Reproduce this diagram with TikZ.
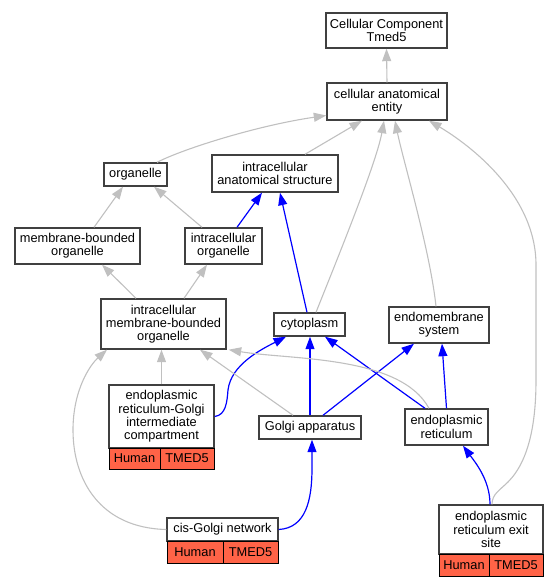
\documentclass[tikz,border=0pt]{standalone}
\usepackage{fontspec}
\setmainfont{Liberation Sans}
\usetikzlibrary{arrows.meta}
\definecolor{edgegray}{HTML}{C0C0C0}
\definecolor{edgeblue}{HTML}{0000FF}
\definecolor{boxc}{HTML}{404040}
\definecolor{tomatored}{HTML}{FF6347}
\tikzset{
  box/.style={draw=boxc, line width=1.4pt, fill=white, inner sep=0pt, align=center,
    font=\fontsize{12.8}{13.3}\selectfont},
  cell/.style={draw=black, line width=1pt, fill=tomatored, inner sep=0pt,
    minimum height=22pt, font=\fontsize{12.8}{13.3}\selectfont},
  isa/.style={draw=edgegray, line width=1.1pt, -{Triangle[length=12.5pt,width=9pt]}},
  partof/.style={draw=edgeblue, line width=1.2pt, -{Triangle[length=12.5pt,width=9pt]}},
}
\begin{document}
\begin{tikzpicture}[x=1pt,y=-1pt]
\useasboundingbox (0,0) rectangle (559,587);
% nodes
\node[box, minimum width=121pt, minimum height=35pt] (cc) at (386.5,30.5) {Cellular Component\\Tmed5};
\node[box, minimum width=120pt, minimum height=37pt] (cae) at (387,101.5) {cellular anatomical\\entity};
\node[box, minimum width=63pt, minimum height=23pt] (org) at (135.5,174.5) {organelle};
\node[box, minimum width=126pt, minimum height=37pt] (ias) at (275,173.5) {intracellular\\anatomical structure};
\node[box, minimum width=125pt, minimum height=36pt] (mbo) at (77.5,246) {membrane-bounded\\organelle};
\node[box, minimum width=77pt, minimum height=36pt] (io) at (223.5,246) {intracellular\\organelle};
\node[box, minimum width=125pt, minimum height=50pt] (imbo) at (163.5,324) {intracellular\\membrane-bounded\\organelle};
\node[box, minimum width=71pt, minimum height=23pt] (cyto) at (309.5,324.5) {cytoplasm};
\node[box, minimum width=100pt, minimum height=36pt] (ems) at (439,325) {endomembrane\\system};
\node[box, minimum width=105pt, minimum height=63pt] (ergic) at (161.5,416.5) {endoplasmic\\reticulum-Golgi\\intermediate\\compartment};
\node[cell, minimum width=51pt, minimum height=21pt] (ergich) at (134.5,458.5) {Human};
\node[cell, minimum width=54pt, minimum height=21pt] (ergict) at (187,458.5) {TMED5};
\node[box, minimum width=102pt, minimum height=23pt] (golgi) at (310,427.5) {Golgi apparatus};
\node[box, minimum width=83pt, minimum height=36pt] (er) at (446.5,427) {endoplasmic\\reticulum};
\node[box, minimum width=111pt, minimum height=23pt] (cgn) at (222.5,529.5) {cis-Golgi network};
\node[cell, minimum width=56pt] (cgnh) at (195,552) {Human};
\node[cell, minimum width=55pt] (cgnt) at (250.5,552) {TMED5};
\node[box, minimum width=104pt, minimum height=49pt] (eres) at (491,529.5) {endoplasmic\\reticulum exit\\site};
\node[cell, minimum width=50pt] (eresh) at (464,565) {Human};
\node[cell, minimum width=54pt] (erest) at (516,565) {TMED5};
% edges
\draw[isa] (cae.north) -- (cc.south);
\draw[isa] ([xshift=21.5pt]org.north) .. controls (185,148) and (260,125) .. ([yshift=-14pt]cae.west);
\draw[isa] ([xshift=30pt]ias.north) -- ([xshift=-25pt]cae.south);
\draw[isa] ([xshift=6.5pt]cyto.north) .. controls (345,240) and (377,160) .. ([xshift=-3pt]cae.south);
\draw[isa] ([xshift=-3pt]ems.north) .. controls (430,250) and (403,160) .. ([xshift=8pt]cae.south);
\draw[isa] ([xshift=1pt]eres.north) .. controls (492,494) and (500,490) .. (508,482)
  .. controls (530,460) and (536,420) .. (536,380) -- (536,265)
  .. controls (536,195) and (470,145) .. ([xshift=42pt]cae.south);
\draw[isa] ([xshift=16.5pt]mbo.north) -- ([xshift=-12.5pt]org.south);
\draw[isa] ([xshift=-21.5pt]io.north) -- ([xshift=18.5pt]org.south);
\draw[partof] ([xshift=13.5pt]io.north) -- ([xshift=-13pt]ias.south);
\draw[partof] ([xshift=-2.5pt]cyto.north) -- ([xshift=5pt]ias.south);
\draw[isa] ([xshift=-27.5pt]imbo.north) -- ([xshift=24.5pt]mbo.south);
\draw[isa] ([xshift=20.5pt]imbo.north) -- ([xshift=-16.5pt]io.south);
\draw[isa] (ergic.north) -- (ergic.north |- imbo.south);
\draw[partof] (ergic.east) .. controls (226,415) and (227,402) .. (228,390)
  .. controls (231,365) and (260,350) .. ([xshift=-23.5pt]cyto.south);
\draw[isa] ([xshift=-17pt]golgi.north) -- ([xshift=36.5pt]imbo.south);
\draw[partof] (golgi.north) -- (golgi.north |- cyto.south);
\draw[partof] ([xshift=13pt]golgi.north) -- ([xshift=-25pt]ems.south);
\draw[partof] ([xshift=-21.5pt]er.north) -- ([xshift=15.5pt]cyto.south);
\draw[isa] ([xshift=-17.5pt]er.north) .. controls (400,355) and (290,360) .. ([xshift=2pt]imbo.south east);
\draw[partof] (er.north) -- ([xshift=3pt]ems.south);
\draw[partof] (cgn.east) .. controls (306,528) and (312,500) .. (312,468) -- ([xshift=2pt]golgi.south);
\draw[isa] (cgn.west) .. controls (100,528) and (73,480) .. (73,430)
  .. controls (73,390) and (90,365) .. ([xshift=-56.5pt]imbo.south);
\draw[partof] ([xshift=-1pt]eres.north) .. controls (490,480) and (475,462) .. ([xshift=16.5pt]er.south);
\end{tikzpicture}
\end{document}
